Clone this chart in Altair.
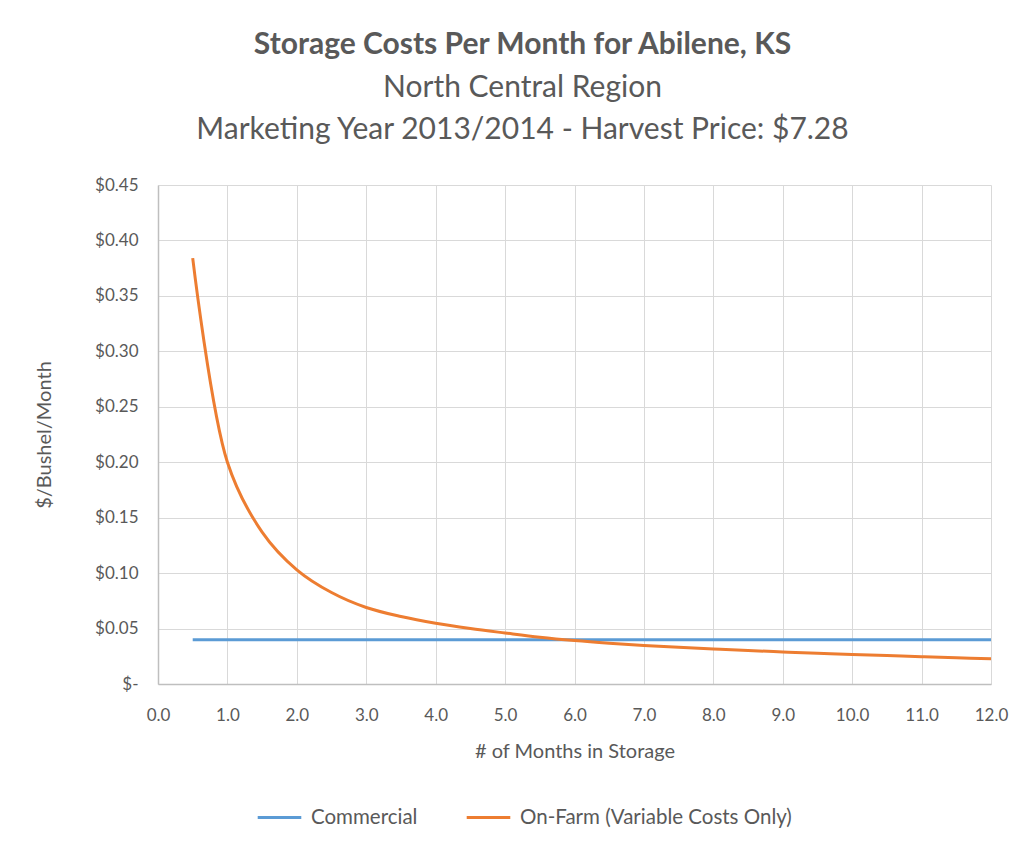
import altair as alt
import pandas as pd

months = [0.5, 1.0, 1.5, 2.0, 2.5, 3.0, 3.5, 4.0, 4.5, 5.0, 5.5, 6.0,
          6.5, 7.0, 7.5, 8.0, 8.5, 9.0, 9.5, 10.0, 10.5, 11.0, 11.5, 12.0]
commercial = [0.040] * len(months)
on_farm = [0.384, 0.200, 0.137, 0.103, 0.0825, 0.069, 0.0608, 0.0547, 0.0500, 0.0460,
           0.0422, 0.0392, 0.0368, 0.0348, 0.0331, 0.0316, 0.0302, 0.0289, 0.0277, 0.0266,
           0.0256, 0.0246, 0.0237, 0.0228]
series_names = ["Commercial", "On-Farm (Variable Costs Only)"]
colors = ["#5B9BD5", "#ED7D31"]

df = pd.concat([
    pd.DataFrame({"month": months, "cost": commercial, "series": series_names[0]}),
    pd.DataFrame({"month": months, "cost": on_farm, "series": series_names[1]}),
])

FONT = "Lato"
GRAY = "#595959"

chart = alt.Chart(df).mark_line(strokeWidth=3, interpolate="catmull-rom").encode(
    x=alt.X("month:Q", title="# of Months in Storage",
            scale=alt.Scale(domain=[0, 12], nice=False),
            axis=alt.Axis(values=list(range(0, 13)), format=".1f", labelFlush=False)),
    y=alt.Y("cost:Q", title="$/Bushel/Month",
            scale=alt.Scale(domain=[0, 0.45], nice=False),
            axis=alt.Axis(values=[i * 0.05 for i in range(10)], labelFlush=False,
                          labelExpr="datum.value < 0.001 ? '$-' : '$' + format(datum.value, '.2f')")),
    color=alt.Color("series:N", title=None,
                    scale=alt.Scale(domain=series_names, range=colors),
                    legend=alt.Legend(orient="none", legendX=98, legendY=609,
                                      direction="horizontal", symbolType="stroke",
                                      symbolSize=1900, symbolStrokeWidth=3,
                                      labelFontSize=20.5, labelColor=GRAY, labelFont=FONT,
                                      labelLimit=400,
                                      columnPadding=42, labelOffset=8)),
).properties(
    width=833, height=499,
    title=alt.TitleParams(
        text="Storage Costs Per Month for Abilene, KS",
        subtitle=["North Central Region", "Marketing Year 2013/2014 - Harvest Price: $7.28"],
        font=FONT, fontSize=30, fontWeight="bold", color=GRAY,
        subtitleFont=FONT, subtitleFontSize=30, subtitleColor=GRAY,
        subtitleLineHeight=42, subtitlePadding=13,
        anchor="middle", dx=-52, offset=31,
    ),
    autosize=alt.AutoSizeParams(type="none"),
    padding={"left": 150, "top": 177, "right": 30, "bottom": 160},
).configure_view(stroke=None).configure_axis(
    grid=True, gridColor="#d9d9d9", gridWidth=1,
    domainColor="#bfbfbf", domainWidth=1.5, ticks=False,
    labelFont=FONT, labelFontSize=17, labelColor=GRAY,
    titleFont=FONT, titleFontSize=20, titleColor=GRAY, titleFontWeight="normal",
).configure_axisX(titlePadding=18, labelPadding=23).configure_axisY(titlePadding=40, labelPadding=20)

chart.save("out.html", embed_options={"renderer": "svg", "actions": False})
